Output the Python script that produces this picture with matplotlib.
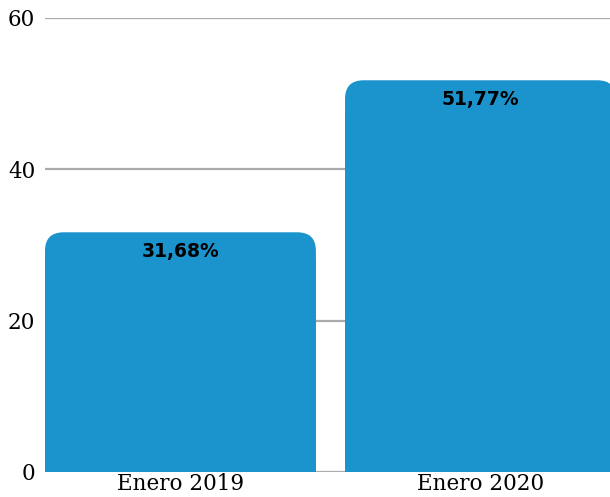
import matplotlib.pyplot as plt
from matplotlib.patches import FancyBboxPatch, Rectangle

categories = ['Enero 2019', 'Enero 2020']
values = [31.68, 51.77]
value_labels = ['31,68%', '51,77%']
y_ticks = [0, 20, 40, 60]

bar_color = '#1b93cc'
grid_color = '#ababab'

fig = plt.figure(figsize=(6.1, 4.97), dpi=100)
ax = fig.add_axes([45 / 610, 25 / 497, 1 - 45 / 610, 454 / 497])

bar_w = 0.903
x_left = -bar_w / 2
ax.set_xlim(x_left, (610 - 180.5) / 300)
ax.set_ylim(0, 60)

for y in y_ticks:
    ax.axhline(y, color=grid_color, lw=1.6, zorder=0)

# rounded top corners: rounded box plus square bottom part
rx = 0.062
ry = 2.45
for i, v in enumerate(values):
    x0 = i - bar_w / 2
    box = FancyBboxPatch((x0, 0), bar_w, v,
                         boxstyle=f'round,pad=0,rounding_size={rx}',
                         mutation_aspect=ry / rx,
                         fc=bar_color, ec='none', zorder=2)
    ax.add_patch(box)
    ax.add_patch(Rectangle((x0, 0), bar_w, v - ry * 1.5,
                           fc=bar_color, ec='none', zorder=2))
    ax.text(i, v - 2.5, value_labels[i], ha='center', va='center',
            fontsize=13.5, fontweight='heavy', family='DejaVu Sans',
            color='black', zorder=3)

ax.set_xticks(range(len(categories)))
ax.set_xticklabels(categories, family='DejaVu Serif', fontsize=15.5)
ax.set_yticks(y_ticks)
ax.set_yticklabels([str(t) for t in y_ticks], family='DejaVu Serif', fontsize=15.5)
ax.tick_params(length=0, pad=7)
ax.tick_params(axis='x', pad=1)
for s in ax.spines.values():
    s.set_visible(False)

fig.savefig('out.png', dpi=100)
